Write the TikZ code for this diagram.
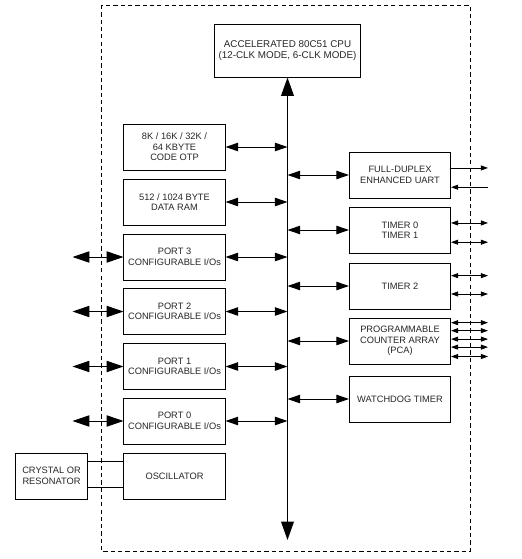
\documentclass[tikz,border=0pt]{standalone}
\usepackage{fontspec}
\setmainfont{Liberation Sans}
\usetikzlibrary{arrows.meta, calc}

\begin{document}
\begin{tikzpicture}[
  x=0.025cm, y=-0.025cm,
  font=\fontsize{6.6}{7.4}\selectfont,
  block/.style={draw, line width=0.7pt, minimum width=2.525cm,
    minimum height=1.15cm, align=center, inner sep=1pt, text=black!85},
  frame/.style={line width=0.6pt, dash pattern=on 3pt off 2.2pt},
  busarr/.style={{Triangle[length=13pt, width=9pt]}-{Triangle[length=13pt, width=9pt]},
    line width=1pt},
  ioarr/.style={{Triangle[length=12pt, width=8pt]}-{Triangle[length=12pt, width=8pt]},
    line width=0.7pt},
  linkarr/.style={{Triangle[length=9pt, width=6pt]}-{Triangle[length=9pt, width=6pt]},
    line width=0.7pt},
  pinarr/.style={{Triangle[length=5pt, width=3.5pt]}-{Triangle[length=5pt, width=3.5pt]},
    line width=0.6pt},
  pinout/.style={-{Triangle[length=5pt, width=3.5pt]}, line width=0.6pt},
  pinin/.style={{Triangle[length=5pt, width=3.5pt]}-, line width=0.6pt},
]
\useasboundingbox (0,0) rectangle (521,559);

% --- chip outline ---
\draw[frame] (101,5) rectangle (470,551);

% --- CPU and bus ---
\node[block, minimum width=3.625cm, minimum height=1.325cm,
  font=\fontsize{7}{7.4}\selectfont] (cpu) at (287.5,50.5)
  {ACCELERATED 80C51 CPU\\(12-CLK MODE, 6-CLK MODE)};
\coordinate (bus)    at (287.5,300);
\coordinate (busend) at (287.5,540);

% --- memory and ports (left) ---
\node[block] (otp)   at (174.5,147) {8K / 16K / 32K /\\64 KBYTE\\CODE OTP};
\node[block] (ram)   at (174.5,202) {512 / 1024 BYTE\\DATA RAM};
\node[block] (port3) at (174.5,257) {PORT 3\\CONFIGURABLE I/Os};
\node[block] (port2) at (174.5,311.5) {PORT 2\\CONFIGURABLE I/Os};
\node[block] (port1) at (174.5,366.5) {PORT 1\\CONFIGURABLE I/Os};
\node[block] (port0) at (174.5,421) {PORT 0\\CONFIGURABLE I/Os};
\node[block] (osc)   at (174.5,476) {OSCILLATOR};
\node[block, minimum width=1.775cm] (xtal) at (51.5,476) {CRYSTAL OR\\RESONATOR};

% --- peripherals (right) ---
\node[block] (uart)  at (400,175) {FULL-DUPLEX\\ENHANCED UART};
\node[block] (tmr01) at (400,230) {TIMER 0\\TIMER 1};
\node[block] (tmr2)  at (400,286) {TIMER 2};
\node[block] (pca)   at (400,341) {PROGRAMMABLE\\COUNTER ARRAY\\(PCA)};
\node[block] (wdt)   at (400,399) {WATCHDOG TIMER};

% --- internal bus ---
\draw[busarr] (cpu.south) -- (busend);

\foreach \b in {otp, ram, port3, port2, port1, port0, uart, tmr01, tmr2, pca, wdt}
  \draw[linkarr] (\b) -- (\b -| bus);

% --- port pins ---
\foreach \p in {0,...,3}
  \draw[ioarr] (port\p.west) -- ++(-51,0);

% --- crystal ---
\draw[line width=0.6pt] ($(xtal.north east)!0.2!(xtal.south east)$)
  -- ($(osc.north west)!0.2!(osc.south west)$);
\draw[line width=0.6pt] ($(xtal.north east)!0.74!(xtal.south east)$)
  -- ($(osc.north west)!0.74!(osc.south west)$);

% --- peripheral pins ---
\draw[pinout] ($(uart.north east)!0.35!(uart.south east)$) -- ++(37,0);
\draw[pinin]  ($(uart.north east)!0.76!(uart.south east)$) -- ++(37,0);
\foreach \f in {0.35, 0.76}
  \draw[pinarr] ($(tmr01.north east)!\f!(tmr01.south east)$) -- ++(37,0);
\foreach \f in {0.28, 0.67}
  \draw[pinarr] ($(tmr2.north east)!\f!(tmr2.south east)$) -- ++(37,0);
\foreach \f in {0.11, 0.28, 0.46, 0.63, 0.83}
  \draw[pinarr] ($(pca.north east)!\f!(pca.south east)$) -- ++(37,0);

\end{tikzpicture}
\end{document}
